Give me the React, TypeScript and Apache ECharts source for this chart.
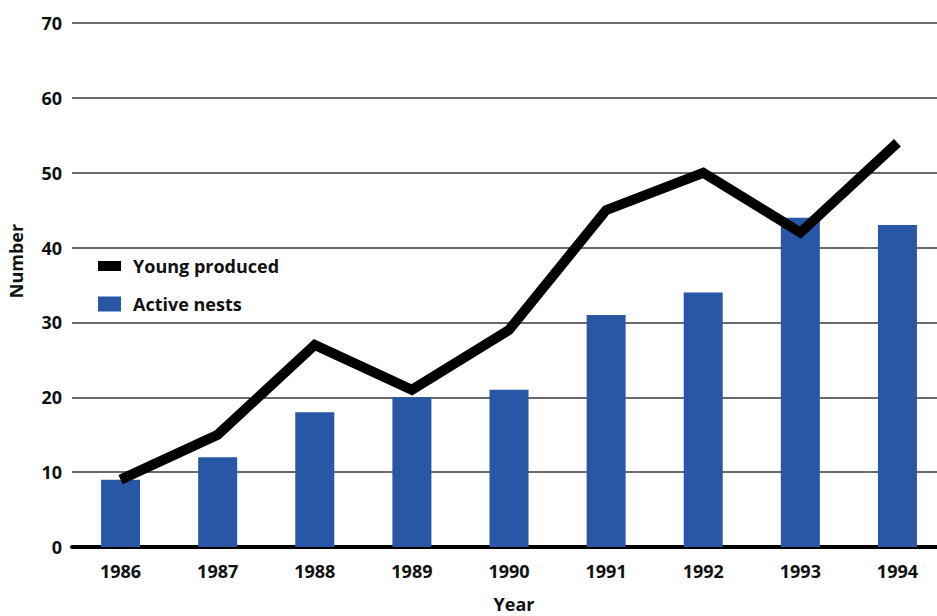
import React, { useEffect, useRef } from "react";
import * as echarts from "echarts";

const years = ["1986", "1987", "1988", "1989", "1990", "1991", "1992", "1993", "1994"];
const activeNests = [9, 12, 18, 20, 21, 31, 34, 44, 43];
const youngProduced = [9, 15, 27, 21, 29, 45, 50, 42, 54];

const FONT = "'Open Sans', 'Noto Sans', sans-serif";
const BLUE = "#2757a5";
const INK = "#111111";

const labelFont = { fontFamily: FONT, fontWeight: "bold", fontSize: 18, color: INK };

export default function App() {
  const ref = useRef<HTMLDivElement>(null);

  useEffect(() => {
    if (!ref.current) return;
    const chart = echarts.init(ref.current, null, { renderer: "svg" });
    chart.setOption({
      animation: false,
      backgroundColor: "#ffffff",
      textStyle: { fontFamily: FONT },
      grid: {
        left: 72,
        right: -9,
        top: 23,
        bottom: 69,
        containLabel: false,
        outerBoundsMode: "none",
      },
      legend: [
        {
          data: [{ name: "Young produced", icon: "rect" }],
          left: 98,
          top: 257,
          padding: 0,
          itemWidth: 23,
          itemHeight: 10,
          textStyle: { ...labelFont, padding: [0, 0, 0, 7] },
          selectedMode: false,
        },
        {
          data: [{ name: "Active nests", icon: "rect" }],
          left: 98,
          top: 295,
          padding: 0,
          itemWidth: 23,
          itemHeight: 15,
          textStyle: { ...labelFont, padding: [0, 0, 0, 7] },
          selectedMode: false,
        },
      ],
      graphic: [
        {
          type: "text",
          x: 16,
          y: 261,
          rotation: Math.PI / 2,
          style: {
            text: "Number",
            ...labelFont,
            fill: INK,
            align: "center",
            verticalAlign: "middle",
          },
        },
        {
          type: "text",
          x: 514,
          y: 604,
          style: {
            text: "Year",
            ...labelFont,
            fill: INK,
            align: "center",
            verticalAlign: "middle",
          },
        },
      ],
      xAxis: {
        type: "category",
        data: years,
        axisLine: { lineStyle: { color: "#000", width: 4 } },
        axisTick: { alignWithLabel: true, length: 10, lineStyle: { color: "#000", width: 1.5 } },
        axisLabel: { ...labelFont, margin: 15 },
      },
      yAxis: {
        type: "value",
        min: 0,
        max: 70,
        interval: 10,
        axisLine: { show: false },
        axisTick: { show: false },
        axisLabel: { ...labelFont, margin: 10, padding: [0, 0, 8, 0] },
        splitLine: { lineStyle: { color: "#3a3a3a", width: 1.5 } },
      },
      series: [
        {
          name: "Active nests",
          type: "bar",
          data: activeNests,
          barWidth: 39,
          itemStyle: { color: BLUE },
          z: 2,
        },
        {
          name: "Young produced",
          type: "line",
          data: youngProduced,
          showSymbol: false,
          symbol: "none",
          itemStyle: { color: "#000" },
          lineStyle: { color: "#000", width: 10, cap: "butt", join: "miter" },
          z: 3,
        },
      ],
    });
    return () => chart.dispose();
  }, []);

  return (
    <div
      ref={ref}
      style={{ position: "absolute", left: 0, top: 0, width: 937, height: 616 }}
    />
  );
}
